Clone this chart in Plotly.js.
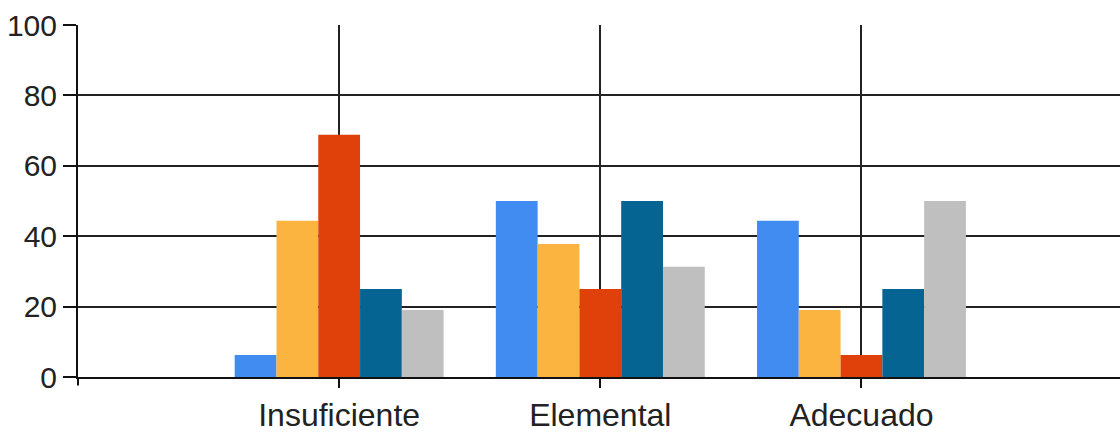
<!DOCTYPE html>
<html>
<head>
<meta charset="utf-8">
<script src="https://cdn.plot.ly/plotly-3.0.1.min.js"></script>
<style>html,body{margin:0;padding:0;background:#fff;}#chart{width:1120px;height:434px;}</style>
</head>
<body>
<div id="chart"></div>
<script>
const categories = ["Insuficiente", "Elemental", "Adecuado"];
const seriesNames = ["Serie 1", "Serie 2", "Serie 3", "Serie 4", "Serie 5"];
const serie1 = [6.25, 50, 44.4];
const serie2 = [44.4, 37.8, 19];
const serie3 = [68.8, 25, 6.25];
const serie4 = [25, 50, 25];
const serie5 = [19, 31.3, 50];
const yTicks = [0, 20, 40, 60, 80, 100];
const colors = ["#418CF0", "#FCB441", "#E0400A", "#056492", "#BFBFBF"];

const allSeries = [serie1, serie2, serie3, serie4, serie5];
const traces = allSeries.map((vals, i) => ({
  type: "bar",
  name: seriesNames[i],
  x: categories,
  y: vals,
  marker: {color: colors[i], line: {width: 0}},
  hoverinfo: "none"
}));

const layout = {
  width: 1120, height: 434,
  margin: {l: 78, r: 0, t: 25, b: 57, pad: 0},
  paper_bgcolor: "#fff", plot_bgcolor: "#fff",
  showlegend: false,
  barmode: "group", bargap: 0.2, bargroupgap: 0,
  font: {family: "Liberation Sans, Arial, sans-serif", color: "#000"},
  xaxis: {
    type: "category",
    categoryarray: categories,
    range: [-1, 2.99],
    showgrid: true, gridcolor: "#222", gridwidth: 2,
    showline: true, linecolor: "#111", linewidth: 2,
    ticks: "outside", ticklen: 9, tickwidth: 2, tickcolor: "#111",
    tickfont: {size: 32, color: "#222"},
    zeroline: false, fixedrange: true
  },
  yaxis: {
    range: [0, 100],
    tickvals: yTicks,
    showgrid: true, gridcolor: "#222", gridwidth: 2,
    showline: true, linecolor: "#111", linewidth: 2,
    ticks: "outside", ticklen: 13, tickwidth: 2, tickcolor: "#111",
    tickfont: {size: 30, color: "#222"},
    zeroline: false, fixedrange: true
  },
  shapes: [{
    type: "line", xref: "paper", yref: "paper",
    x0: 0, x1: 0, y0: 0, y1: -0.024,
    line: {color: "#111", width: 2}
  }]
};

Plotly.newPlot("chart", traces, layout, {displayModeBar: false, staticPlot: true});
</script>
</body>
</html>
